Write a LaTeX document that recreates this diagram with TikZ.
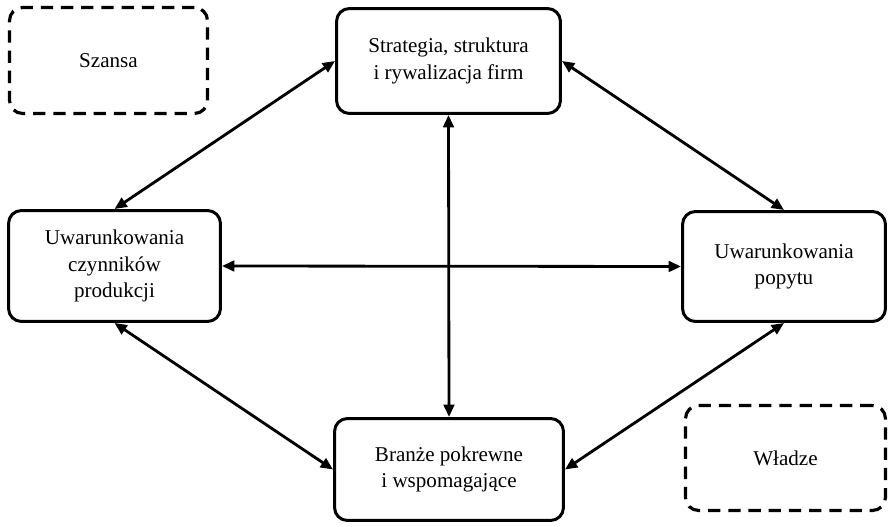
\documentclass[tikz,border=0pt]{standalone}
\usepackage{fontspec}
\setmainfont{Liberation Serif}
\usetikzlibrary{arrows.meta}

\begin{document}
\begin{tikzpicture}[x=0.02cm,y=-0.02cm]

\def\lw{1.7pt}
\def\rad{0.26cm}

\tikzset{box/.style = {draw, rounded corners=\rad, line width=\lw, align=center, inner sep=0pt, font=\fontsize{12}{15.2}\selectfont}}
\tikzset{chance/.style = {box, line width=1.8pt, dash pattern=on 7pt off 4.5pt}}
\tikzset{link/.style = {line width=1.6pt, {Triangle[length=7pt,width=6pt]}-{Triangle[length=7pt,width=6pt]}}}

\useasboundingbox (0,0) rectangle (890,527);

\node[box, minimum width=4.48cm, minimum height=2.1cm] (strat) at (448.5,61) {Strategia, struktura\\i rywalizacja firm};
\node[box, minimum width=4.24cm, minimum height=2.22cm] (czyn) at (114.5,266) {Uwarunkowania\\czynników\\produkcji};
\node[box, minimum width=4.06cm, minimum height=2.2cm] (popyt) at (784,266.5) {Uwarunkowania\\popytu};
\node[box, minimum width=4.58cm, minimum height=2.04cm] (branze) at (449,469.5) {Branże pokrewne\\i wspomagające};

\node[chance, minimum width=3.96cm, minimum height=2.12cm] (szansa) at (108.5,60.5) {Szansa};
\node[chance, minimum width=4.0cm, minimum height=2.1cm] (wladze) at (785.5,458) {Władze};

\draw[link] (strat.west) -- (czyn.north);
\draw[link] (strat.east) -- (popyt.north);
\draw[link] (strat.south) -- (branze.north);
\draw[link] (czyn.east) -- (popyt.west);
\draw[link] (czyn.south) -- (branze.west);
\draw[link] (popyt.south) -- (branze.east);

\end{tikzpicture}
\end{document}
